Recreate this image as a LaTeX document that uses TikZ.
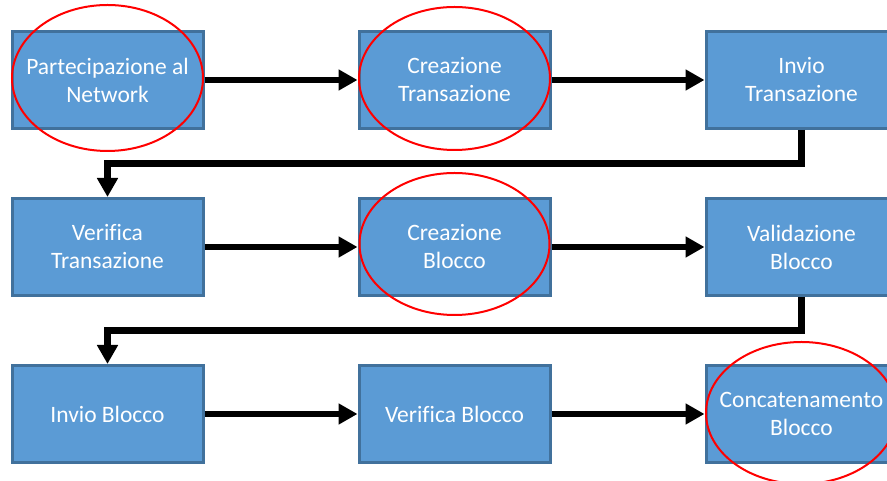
\documentclass[tikz,border=0pt]{standalone}
\usepackage{fontspec}
\setmainfont[Ligatures=NoCommon]{Carlito}
\usepackage{tikz}
\usetikzlibrary{positioning}
\usetikzlibrary{arrows.meta}

\definecolor{stepfill}{HTML}{5B9BD5}
\definecolor{stepline}{HTML}{41719C}

\begin{document}
\begin{tikzpicture}[
        node distance=67pt and 153pt,
        stepbox/.style={rectangle,draw=stepline,fill=stepfill,line width=3pt,
            minimum width=191pt,minimum height=97pt,inner sep=2pt,align=center,
            text=white,font=\fontsize{23.5pt}{28pt}\selectfont},
        flow/.style={line width=6.5pt,-{Triangle[length=19pt,width=20pt]}},
        ring/.style={draw=red,line width=2pt}
    ]
        \useasboundingbox (0,0) rectangle (887pt,481pt);
        \clip (0,0) rectangle (887pt,481pt);

        \node[stepbox] (part) at (107.5pt,401pt) {Partecipazione al\\Network};
        \node[stepbox,right=of part] (creatx) {Creazione\\Transazione};
        \node[stepbox,right=of creatx] (inviotx) {Invio\\Transazione};

        \node[stepbox,below=of part] (verifytx) {Verifica\\Transazione};
        \node[stepbox,right=of verifytx] (creablk) {Creazione\\Blocco};
        \node[stepbox,right=of creablk] (validblk) {Validazione\\Blocco};

        \node[stepbox,below=of verifytx] (inviablk) {Invio Blocco};
        \node[stepbox,right=of inviablk] (verifyblk) {Verifica Blocco};
        \node[stepbox,right=of verifyblk] (concatblk) {Concatenamento\\Blocco};

        \draw[flow] (part) -- (creatx);
        \draw[flow] (creatx) -- (inviotx);
        \draw[flow] (inviotx.south) -- ++(0,-33.5pt) -| (verifytx.north);

        \draw[flow] (verifytx) -- (creablk);
        \draw[flow] (creablk) -- (validblk);
        \draw[flow] (validblk.south) -- ++(0,-33.5pt) -| (inviablk.north);

        \draw[flow] (inviablk) -- (verifyblk);
        \draw[flow] (verifyblk) -- (concatblk);

        % red marks on the key steps
        \draw[ring] ([yshift=2pt]part.center) ellipse [x radius=95.5pt,y radius=73pt];
        \draw[ring] ([yshift=1.5pt]creatx.center) ellipse [x radius=95.5pt,y radius=71.5pt];
        \draw[ring] ([yshift=3pt]creablk.center) ellipse [x radius=95pt,y radius=71pt];
        \draw[ring] ([yshift=1pt]concatblk.center) ellipse [x radius=95.5pt,y radius=71pt];
\end{tikzpicture}
\end{document}
